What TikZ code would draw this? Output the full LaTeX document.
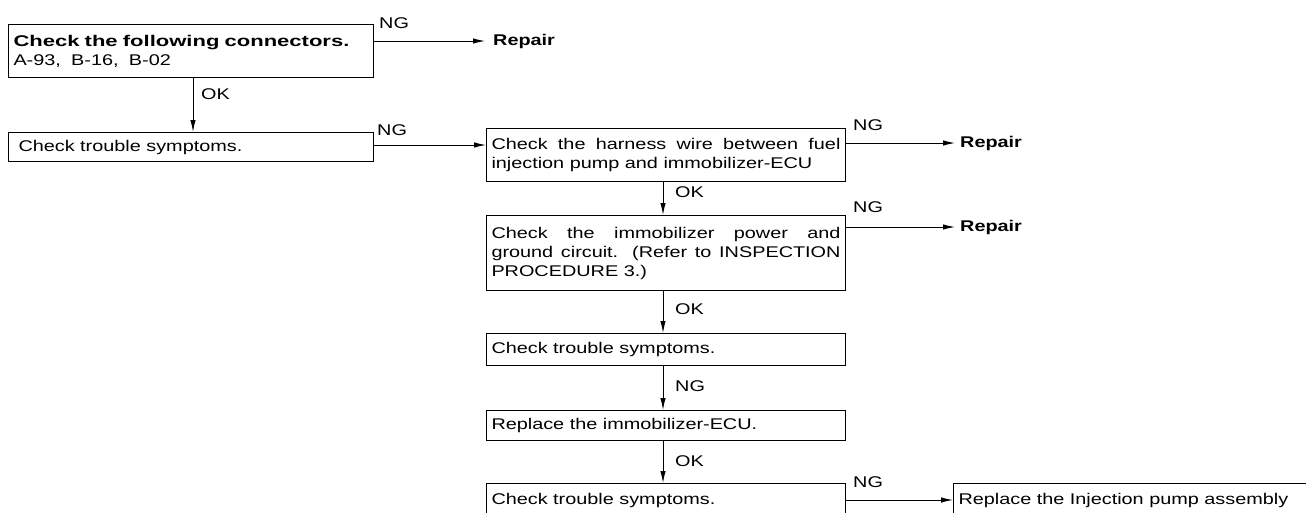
\documentclass[tikz,border=0pt]{standalone}
\usepackage{fontspec}
\setmainfont{Liberation Sans}[FakeStretch=1.28]
\newfontfamily\widetitle{Liberation Sans}[FakeStretch=1.42]
\usetikzlibrary{arrows.meta}
\begin{document}
\begin{tikzpicture}[x=1pt,y=-1pt,
 box/.style={draw, line width=1pt, anchor=north west, inner xsep=5pt, inner ysep=2pt,
   align=justify, font=\fontsize{15.5}{19}\selectfont},
 arr/.style={-{Latex[length=12pt,width=5.5pt]}, line width=1pt},
 lbl/.style={font=\fontsize{15.5}{17}\selectfont, inner sep=0pt},
 rep/.style={font=\bfseries\fontsize{15.5}{17}\selectfont, anchor=west, inner sep=0pt}]
\useasboundingbox (0,0) rectangle (1306,512);
% boxes
\node[box, text width=355pt, minimum height=53pt, align=left] (b1) at (8,24)
  {{\widetitle\bfseries Check the following connectors.}\\ A-93, \ B-16, \ B-02};
\node[box, text width=345pt, minimum height=29pt, inner xsep=10pt] (b2) at (8,132)
  {Check trouble symptoms.};
\node[box, text width=349pt, minimum height=53pt] (b3) at (486,128)
  {Check the harness wire between fuel\linebreak injection pump and immobilizer-ECU};
\node[box, text width=349pt, minimum height=75pt] (b4) at (486,215)
  {Check the immobilizer power and\linebreak ground circuit. (Refer to INSPECTION\linebreak PROCEDURE 3.)};
\node[box, text width=349pt, minimum height=32pt] (b5) at (486,333)
  {Check trouble symptoms.};
\node[box, text width=349pt, minimum height=30pt] (b6) at (486,410)
  {Replace the immobilizer-ECU.};
\node[box, text width=349pt, minimum height=34pt] (b7) at (486,483)
  {Check trouble symptoms.};
\node[box, text width=380pt, minimum height=34pt] (b8) at (953,483)
  {Replace the Injection pump assembly};
% repair nodes
\node[rep] (r1) at (493,41) {Repair};
\node[rep] (r2) at (960,143) {Repair};
\node[rep] (r3) at (960,227) {Repair};
% helper coordinates
\coordinate (xa) at (193,0);
\coordinate (xb) at (663,0);
\coordinate (y2) at (0,145);
\coordinate (y7) at (0,500);
% connectors
\draw[arr] (r1.west -| b1.east) -- ([xshift=-8pt]r1.west);
\draw[arr] (b1.south -| xa) -- (b2.north -| xa);
\draw[arr] (b2.east |- y2) -- (b3.west |- y2);
\draw[arr] (r2.west -| b3.east) -- ([xshift=-5pt]r2.west);
\draw[arr] (b3.south -| xb) -- (b4.north -| xb);
\draw[arr] (r3.west -| b4.east) -- ([xshift=-5pt]r3.west);
\draw[arr] (b4.south -| xb) -- (b5.north -| xb);
\draw[arr] (b5.south -| xb) -- (b6.north -| xb);
\draw[arr] (b6.south -| xb) -- (b7.north -| xb);
\draw[arr] (b7.east |- y7) -- (b8.west |- y7);
% labels
\node[lbl, anchor=west] (l1) at (379,23) {NG};
\node[lbl, anchor=west] (l2) at (201,94) {OK};
\node[lbl, anchor=west] (l3) at (377,130) {NG};
\node[lbl, anchor=west] (l4) at (853,125) {NG};
\node[lbl, anchor=west] (l5) at (675,192) {OK};
\node[lbl, anchor=west] (l6) at (853,207) {NG};
\node[lbl, anchor=west] (l7) at (675,309) {OK};
\node[lbl, anchor=west] (l8) at (675,386) {NG};
\node[lbl, anchor=west] (l9) at (675,461) {OK};
\node[lbl, anchor=west] (l10) at (853,482) {NG};
\end{tikzpicture}
\end{document}
